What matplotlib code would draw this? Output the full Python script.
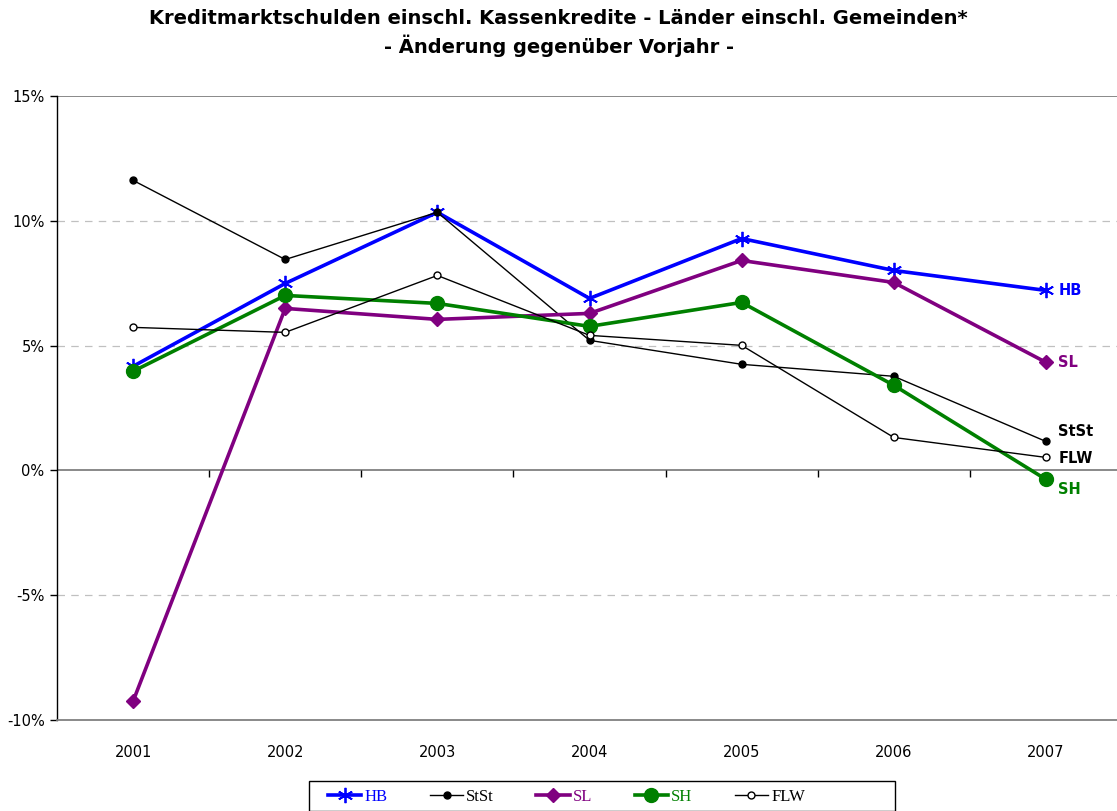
import matplotlib
matplotlib.use('Agg')
import matplotlib.pyplot as plt
from matplotlib.patches import Rectangle
from matplotlib.ticker import FuncFormatter

# Jahre und Veraenderungsraten in Prozent
years = ['2001', '2002', '2003', '2004', '2005', '2006', '2007']
hb = [4.17, 7.49, 10.34, 6.89, 9.29, 8.01, 7.21]
stst = [11.62, 8.45, 10.34, 5.21, 4.25, 3.77, 1.16]
sl = [-9.25, 6.49, 6.05, 6.29, 8.41, 7.53, 4.33]
sh = [3.97, 7.01, 6.69, 5.77, 6.73, 3.41, -0.36]
flw = [5.73, 5.53, 7.81, 5.41, 5.01, 1.32, 0.52]

blue = '#0000FF'
purple = '#800080'
green = '#008000'

fig = plt.figure(figsize=(11.17, 8.11), dpi=100)
ax = fig.add_axes([57/1117, 1 - 720/811, (1122 - 57)/1117, (720 - 96)/811])

x = list(range(len(years)))

# Gitterlinien
for yv in [10, 5, -5]:
    ax.axhline(yv, color='#c0c0c0', lw=0.9, ls=(0, (6, 5)), zorder=0)
ax.axhline(0, color='#808080', lw=1.3, zorder=1)
ax.axhline(15, color='#808080', lw=1.3, zorder=1)
# kleine Striche an der Nulllinie zwischen den Jahren
ax.plot([i + 0.5 for i in x[:-1]], [0] * (len(x) - 1), ls='none', marker=3,
        color='black', ms=5, mew=1, zorder=1)

ax.plot(x, hb, color=blue, lw=2.6, marker=(6, 2, 0), ms=11, mew=1.3, label='HB', zorder=3)
ax.plot(x, stst, color='black', lw=1.0, marker='o', ms=5, label='StSt', zorder=3)
ax.plot(x, sl, color=purple, lw=2.6, marker='D', ms=7.5, label='SL', zorder=3)
ax.plot(x, sh, color=green, lw=2.6, marker='o', ms=10, label='SH', zorder=3)
ax.plot(x, flw, color='black', lw=1.0, marker='o', ms=5, mfc='white', mew=1,
        label='FLW', zorder=3)

# Beschriftungen rechts
end_labels = [('HB', hb[-1], blue, 0), ('SL', sl[-1], purple, 0),
              ('StSt', stst[-1], 'black', 7), ('FLW', flw[-1], 'black', -1),
              ('SH', sh[-1], green, -7)]
for name, val, col, dy in end_labels:
    ax.annotate(name, (x[-1], val), xytext=(9, dy), textcoords='offset points',
                color=col, fontsize=10.5, fontweight='bold', va='center', ha='left')

ax.set_xlim(-0.5, len(years) - 0.5)
ax.set_ylim(-10, 15)
ax.set_xticks(x)
ax.set_xticklabels(years)
ax.set_yticks([-10, -5, 0, 5, 10, 15])
ax.yaxis.set_major_formatter(FuncFormatter(lambda v, p: f'{v:.0f}%'))
ax.tick_params(axis='x', length=0, pad=18, labelsize=10.5)
ax.tick_params(axis='y', length=5, width=1, direction='out', pad=4, labelsize=10.5)

ax.spines['top'].set_visible(False)
ax.spines['right'].set_visible(False)
ax.spines['bottom'].set_color('#808080')
ax.spines['bottom'].set_linewidth(1.3)
ax.spines['left'].set_color('black')
ax.spines['left'].set_linewidth(1.0)

fig.text(0.5, 1 - 18/811, 'Kreditmarktschulden einschl. Kassenkredite - Länder einschl. Gemeinden*',
         ha='center', va='center', fontsize=14, fontweight='bold')
fig.text(0.5, 1 - 46/811, '- Änderung gegenüber Vorjahr -',
         ha='center', va='center', fontsize=14, fontweight='bold')

# Legende ohne eigenen Rahmen, Rahmen wie im Original breiter
leg = fig.legend(loc='center left', bbox_to_anchor=(328/1117, 1 - 797/811), ncol=5,
                 frameon=False, handlelength=2.0, columnspacing=2.55,
                 handletextpad=0.18, borderpad=0, borderaxespad=0,
                 prop={'family': 'Liberation Serif', 'size': 12})
for text, line in zip(leg.get_texts(), leg.get_lines()):
    text.set_color(line.get_color())
fig.patches.append(Rectangle((309/1117, 0), (895 - 309)/1117, (811 - 781)/811,
                             transform=fig.transFigure, fill=False,
                             edgecolor='black', lw=1.0))

fig.savefig('out.png', dpi=100)
